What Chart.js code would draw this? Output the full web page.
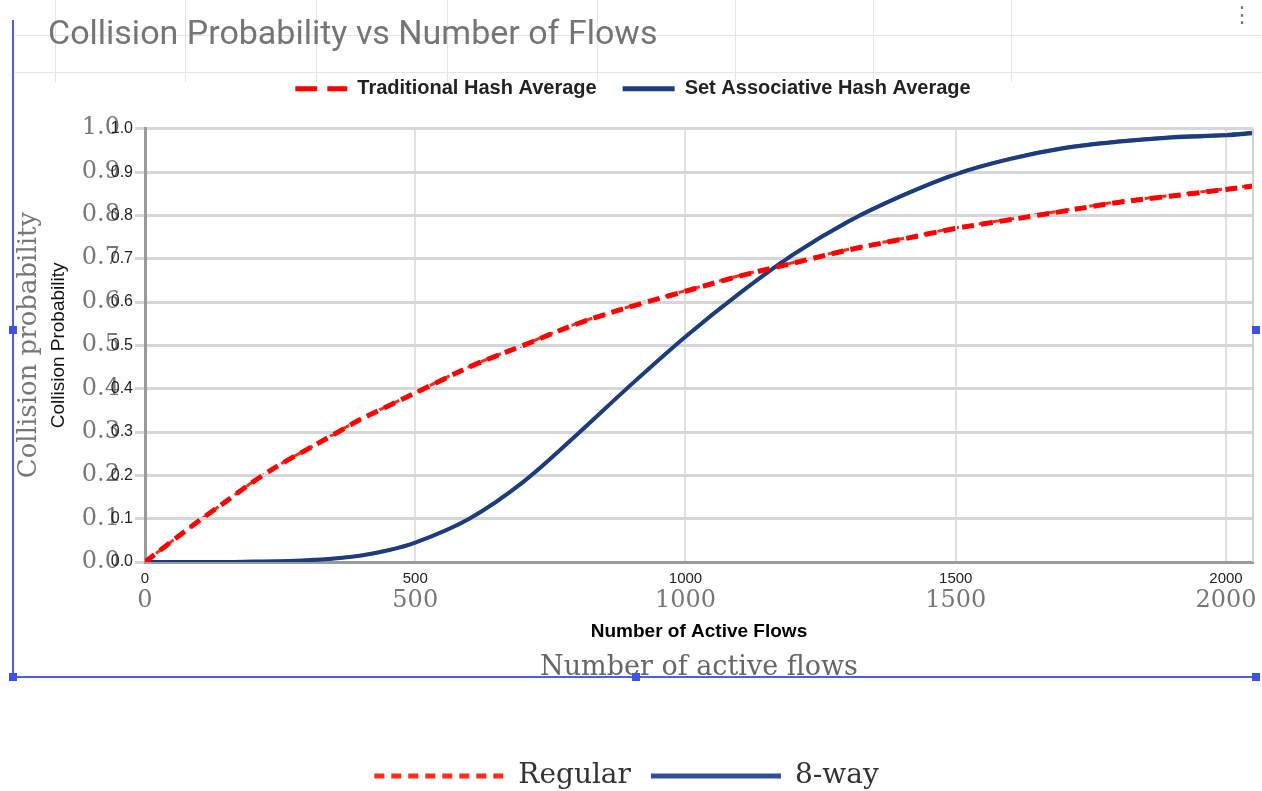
<!DOCTYPE html>
<html>
<head>
<meta charset="utf-8">
<script src="https://cdn.jsdelivr.net/npm/chart.js@4.4.1/dist/chart.umd.min.js"></script>
<style>
  body { margin: 0; background: #fff; width: 1262px; height: 791px; overflow: hidden; position: relative; }
  .camada { position: absolute; left: 0; top: 0; }
  .linha-v { position: absolute; top: 0; width: 1px; height: 82px; background: #e4e4e4; }
  .linha-h { position: absolute; left: 15px; width: 1247px; height: 1px; background: #e4e4e4; }
  .sel { position: absolute; background: #4a5ee8; }
  .alca { position: absolute; width: 8px; height: 8px; background: #3d52e6; }
  #menu { position: absolute; left: 1231px; top: 2px; font: 22px "DejaVu Sans", sans-serif; color: #757575; }
</style>
</head>
<body>
<div class="linha-h" style="top:35px"></div>
<div class="linha-h" style="top:72px"></div>
<div class="linha-v" style="left:55px"></div>
<div class="linha-v" style="left:185px"></div>
<div class="linha-v" style="left:316px"></div>
<div class="linha-v" style="left:447px"></div>
<div class="linha-v" style="left:597px"></div>
<div class="linha-v" style="left:735px"></div>
<div class="linha-v" style="left:873px"></div>
<div class="linha-v" style="left:1011px"></div>

<div class="camada"><canvas id="fundo" width="1262" height="810"></canvas></div>
<div class="camada"><canvas id="grafico" width="1262" height="791"></canvas></div>

<div class="sel" style="left:12px;top:20px;width:2px;height:658px"></div>
<div class="sel" style="left:13px;top:676px;width:1244px;height:2px"></div>
<div class="alca" style="left:9px;top:326px"></div>
<div class="alca" style="left:9px;top:673px"></div>
<div class="alca" style="left:632px;top:673px"></div>
<div class="alca" style="left:1252px;top:673px"></div>
<div class="alca" style="left:1252px;top:326px"></div>
<div id="menu">⋮</div>

<script>
// valores
const fluxos = [0, 50, 100, 150, 200, 250, 300, 350, 400, 450, 500, 600, 700, 800, 900,
  1000, 1100, 1200, 1300, 1400, 1500, 1600, 1700, 1800, 1900, 2000, 2050];
const tradicional = [0, 0.048, 0.095, 0.14, 0.185, 0.225, 0.26, 0.295, 0.33, 0.36, 0.39, 0.45, 0.50,
  0.55, 0.59, 0.625, 0.66, 0.69, 0.72, 0.745, 0.77, 0.79, 0.81, 0.83, 0.845, 0.86, 0.868];
const associativo = [0, 0, 0, 0, 0.001, 0.002, 0.004, 0.008, 0.015, 0.027, 0.045, 0.10, 0.185,
  0.295, 0.41, 0.52, 0.62, 0.71, 0.785, 0.845, 0.895, 0.93, 0.955, 0.97, 0.98, 0.985, 0.99];
const ticksX = [0, 500, 1000, 1500, 2000];
const ticksY = [0, 0.1, 0.2, 0.3, 0.4, 0.5, 0.6, 0.7, 0.8, 0.9, 1.0];

function pontos(valores) {
  return fluxos.map((f, i) => ({ x: f, y: valores[i] }));
}

function fixarTicks(lista) {
  return scale => { scale.ticks = lista.map(v => ({ value: v })); };
}

// legenda com traco: usa o dash de cada serie
function legendaTracos(tracos, largura) {
  return chart => Chart.defaults.plugins.legend.labels.generateLabels(chart).map((item, i) => {
    const ds = chart.data.datasets[i];
    item.lineDash = tracos[i];
    item.lineWidth = largura;
    item.strokeStyle = ds.borderColor;
    item.fillStyle = ds.borderColor;
    return item;
  });
}

// grafico de tras (serifado)
new Chart(document.getElementById("fundo"), {
  type: "line",
  data: {
    datasets: [{
      label: "Regular",
      data: pontos(tradicional),
      borderColor: "#ff2b1c",
      borderWidth: 3,
      borderDash: [8, 6],
      pointRadius: 0,
      cubicInterpolationMode: "monotone"
    }, {
      label: "8-way",
      data: pontos(associativo),
      borderColor: "#2f4f9c",
      borderWidth: 3,
      pointRadius: 0,
      cubicInterpolationMode: "monotone"
    }]
  },
  options: {
    responsive: false,
    animation: false,
    layout: { autoPadding: false, padding: { left: 0, right: 9, top: 128, bottom: 10 } },
    plugins: {
      tooltip: { enabled: false },
      legend: {
        position: "bottom",
        labels: {
          usePointStyle: true,
          pointStyle: "line",
          pointStyleWidth: 130,
          padding: 20,
          color: "#333",
          font: { family: "DejaVu Serif", size: 28 },
          generateLabels: legendaTracos([[10, 7], []], 5)
        }
      }
    },
    scales: {
      x: {
        type: "linear",
        min: 0,
        max: 2050,
        afterBuildTicks: fixarTicks(ticksX),
        afterFit: s => { s.height = 180; },
        grid: { display: false, drawTicks: true, tickLength: 22 },
        border: { display: false },
        ticks: { padding: 2, color: "#777", font: { family: "DejaVu Serif", size: 24 }, callback: v => String(v) },
        title: {
          display: true,
          text: "Number of active flows",
          color: "#666",
          padding: { top: 0, bottom: 58 },
          font: { family: "DejaVu Serif", size: 27 }
        }
      },
      y: {
        min: 0,
        max: 1,
        afterBuildTicks: fixarTicks(ticksY),
        afterFit: s => { s.width = 145; },
        grid: { display: false, drawTicks: false },
        border: { display: false },
        ticks: { padding: 25, color: "#777", font: { family: "DejaVu Serif", size: 24 }, callback: v => v.toFixed(1) },
        title: {
          display: true,
          text: "Collision probability",
          color: "#777",
          padding: { top: 14, bottom: 0 },
          font: { family: "DejaVu Serif", size: 26 }
        }
      }
    }
  }
});

// grafico da frente
const bordaDireita = {
  id: "bordaDireita",
  afterDatasetsDraw(chart) {
    const { ctx, chartArea } = chart;
    ctx.save();
    ctx.strokeStyle = "#d0d0d0";
    ctx.lineWidth = 2;
    ctx.beginPath();
    ctx.moveTo(chartArea.right, chartArea.top);
    ctx.lineTo(chartArea.right, chartArea.bottom);
    ctx.stroke();
    ctx.restore();
  }
};

const recuoTitulo = {
  id: "recuoTitulo",
  afterLayout(chart) {
    chart.titleBlock.left = 48;
  }
};

new Chart(document.getElementById("grafico"), {
  type: "line",
  data: {
    datasets: [{
      label: "Traditional Hash Average",
      data: pontos(tradicional),
      borderColor: "#ff0000",
      borderWidth: 5,
      borderDash: [12, 7],
      pointRadius: 0,
      cubicInterpolationMode: "monotone"
    }, {
      label: "Set Associative Hash Average",
      data: pontos(associativo),
      borderColor: "#1c3c7e",
      borderWidth: 4,
      pointRadius: 0,
      cubicInterpolationMode: "monotone"
    }]
  },
  plugins: [bordaDireita, recuoTitulo],
  options: {
    responsive: false,
    animation: false,
    layout: { autoPadding: false, padding: { left: 13, right: 9, top: 0, bottom: 139 } },
    plugins: {
      tooltip: { enabled: false },
      title: {
        display: true,
        text: "Collision Probability vs Number of Flows",
        align: "start",
        color: "#757575",
        padding: { top: 15, bottom: -3 },
        font: { family: "Roboto", size: 34, weight: "normal" }
      },
      legend: {
        position: "top",
        labels: {
          usePointStyle: true,
          pointStyle: "line",
          pointStyleWidth: 52,
          padding: 26,
          color: "#222",
          font: { family: "Liberation Sans", size: 20, weight: "bold" },
          generateLabels: legendaTracos([[22, 10], []], 5)
        }
      }
    },
    scales: {
      x: {
        type: "linear",
        min: 0,
        max: 2050,
        afterBuildTicks: fixarTicks(ticksX),
        afterFit: s => { s.height = 90; },
        grid: { color: "#e0e0e0", lineWidth: 2, drawTicks: false },
        border: { color: "#9a9a9a", width: 3 },
        ticks: { padding: 8, color: "#222", font: { family: "Liberation Sans", size: 15 }, callback: v => String(v) },
        title: {
          display: true,
          text: "Number of Active Flows",
          color: "#000",
          padding: { top: 0, bottom: 9 },
          font: { family: "Liberation Sans", size: 19, weight: "bold" }
        }
      },
      // eixo vazio so para afastar a legenda da area do grafico
      espaco: {
        type: "linear",
        position: "top",
        min: 0,
        max: 2050,
        afterFit: s => { s.height = 20; },
        grid: { display: false, drawTicks: false },
        border: { display: false },
        ticks: { display: false }
      },
      y: {
        min: 0,
        max: 1,
        afterBuildTicks: fixarTicks(ticksY),
        afterFit: s => { s.width = 132; },
        grid: { color: "#d6d6d6", lineWidth: 3, tickLength: 10 },
        border: { color: "#9a9a9a", width: 3 },
        ticks: { padding: 2, color: "#222", font: { family: "Liberation Sans", size: 16 }, callback: v => v.toFixed(1) },
        title: {
          display: true,
          text: "Collision Probability",
          color: "#111",
          padding: { top: 34, bottom: 0 },
          font: { family: "Liberation Sans", size: 19 }
        }
      }
    }
  }
});
</script>
</body>
</html>
